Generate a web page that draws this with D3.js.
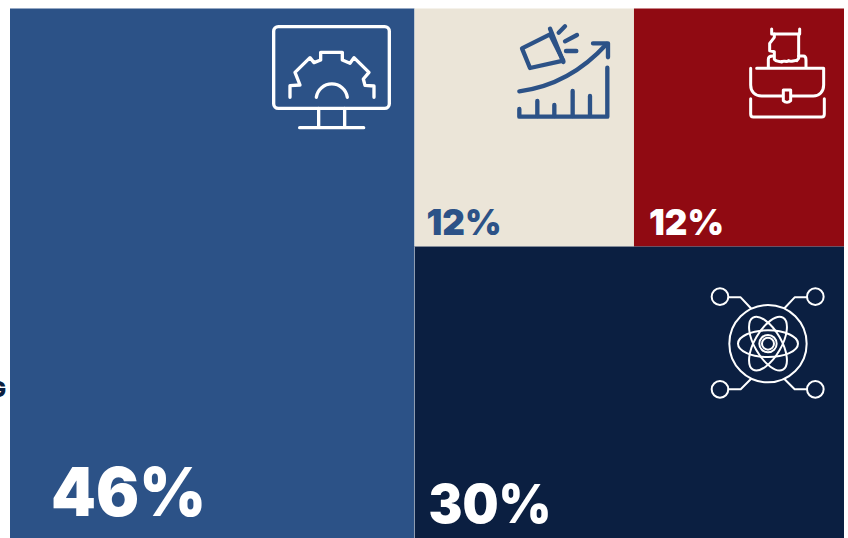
<!DOCTYPE html>
<html>
<head>
    <meta charset="utf-8">
    <style>
        html, body { margin: 0; background: #fff; }
        svg { display: block; }
        text { font-family: Inter, sans-serif; font-weight: 900; }
        .icon path, .icon circle, .icon ellipse, .icon rect { fill: none; stroke-linecap: round; stroke-linejoin: round; }
    </style>
</head>
<body>
    <svg id="chart" width="848" height="538"></svg>
    <script src="https://d3js.org/d3.v7.min.js"></script>
    <script>
        // printed labels
        var labels = ["46%", "12%", "12%", "30%"];
        // tile areas as drawn, they don't quite follow the printed labels
        var tileShares = [48.5, 11.83, 11.32, 28.35];
        var fills = ["#2c5287", "#ebe5d8", "#900a12", "#0b1f41"];
        var textColors = ["#fff", "#2c5287", "#fff", "#fff"];
        var fontSizes = [67, 36, 36, 53];
        var labelWidths = [155, 75, 75, 123];
        var labelX = [41, 12, 15, 14];
        var labelBottom = [22, 12, 12, 15];

        var svg = d3.select("svg");
        var left = 10, top_ = 8.5;

        var root = d3.hierarchy({
            children: [
                { id: 0, value: tileShares[0] },
                { children: [
                    { children: [
                        { id: 1, value: tileShares[1] },
                        { id: 2, value: tileShares[2] }
                    ] },
                    { id: 3, value: tileShares[3] }
                ] }
            ]
        }).sum(function(d) { return d.value || 0; });

        d3.treemap()
            .tile(d3.treemapSliceDice)
            .size([834, 529.5])(root);

        var leaves = root.leaves();
        var plot = svg.append("g").attr("transform", "translate(" + left + "," + top_ + ")");

        plot.selectAll("rect.tile")
            .data(leaves)
            .enter().append("rect")
            .attr("class", "tile")
            .attr("x", function(d) { return d.x0; })
            .attr("y", function(d) { return d.y0; })
            .attr("width", function(d) { return d.x1 - d.x0; })
            .attr("height", function(d) { return d.y1 - d.y0; })
            .attr("fill", function(d) { return fills[d.data.id]; });

        // thin light seam between the big tiles
        plot.append("line").attr("x1", leaves[0].x1).attr("x2", leaves[0].x1)
            .attr("y1", leaves[1].y1).attr("y2", 529.5)
            .attr("stroke", "#8f9db2").attr("stroke-width", 1);

        plot.selectAll("text.value")
            .data(leaves)
            .enter().append("text")
            .attr("class", "value")
            .attr("x", function(d) { return d.x0 + labelX[d.data.id]; })
            .attr("y", function(d) { return d.y1 - labelBottom[d.data.id]; })
            .attr("font-size", function(d) { return fontSizes[d.data.id]; })
            .attr("textLength", function(d) { return labelWidths[d.data.id]; })
            .attr("lengthAdjust", "spacingAndGlyphs")
            .attr("fill", function(d) { return textColors[d.data.id]; })
            .text(function(d) { return labels[d.data.id]; });

        // cut off label on the left edge, the reference clips it too
        svg.append("text")
            .attr("x", 6).attr("y", 397)
            .attr("text-anchor", "end")
            .attr("font-size", 22)
            .attr("fill", "#0b1f41")
            .text("G");

        // icons, traced at 3x so coordinates are in zoomed units
        function icon(x, y, color, sw) {
            return svg.append("g").attr("class", "icon")
                .attr("transform", "translate(" + x + "," + y + ") scale(0.3333)")
                .style("stroke", color).style("stroke-width", sw);
        }
        function addPaths(g, list) {
            list.forEach(function(p) { g.append("path").attr("d", p); });
        }

        // monitor with gear
        var monitor = icon(250, 10, "#fff", 10);
        monitor.append("rect").attr("x", 71).attr("y", 50).attr("width", 347).attr("height", 245).attr("rx", 14);
        addPaths(monitor, [
            "M206 295V352M284 295V352M149 353H341",
            "M120 262V227L150 225L135 187L180 143L192 158L212 150V127H277V150L300 160L312 143L357 187L340 207L345 226L372 228V262",
            "M199 262A47 47 0 0 1 292 262"
        ]);

        // megaphone and growth chart
        var growth = icon(500, 10, "#2c5287", 13);
        addPaths(growth, [
            "M66 115L150 73L190 152L90 174Z",
            "M150 56L190 156",
            "M176 68L195 49M195 94L231 75M198 123H229",
            "M58 244C150 232 240 190 320 102",
            "M279 100H324V142",
            "M322 173V320H58V297",
            "M112 273V318M163 285V318M218 243V318M270 258V318"
        ]);

        // briefcase with hand
        var briefcase = icon(730, 10, "#fff", 9);
        addPaths(briefcase, [
            "M125 57V72M209 57V72M125 72H209",
            "M133 72V82L119 100V122L133 125V148C140 158 150 152 155 156C160 150 170 158 176 152C182 158 192 150 200 152L206 145V72",
            "M115 172V148C115 142 120 138 128 138M206 138H220C226 138 228 144 228 150V172",
            "M62 175V225C62 245 75 258 95 258H155M185 258H250C268 258 281 245 281 225V175H80",
            "M62 266V312C62 318 65 321 70 321H275C280 321 283 318 283 312V266",
            "M160 240H182V272C176 278 166 278 160 272Z"
        ]);

        // atom in network
        var atom = icon(700, 280, "#fff", 6);
        atom.append("circle").attr("cx", 204).attr("cy", 191).attr("r", 116);
        atom.append("circle").attr("cx", 204).attr("cy", 191).attr("r", 26);
        atom.append("circle").attr("cx", 204).attr("cy", 191).attr("r", 18);
        [0, 60, 120].forEach(function(a) {
            atom.append("ellipse")
                .attr("cx", 204).attr("cy", 191).attr("rx", 90).attr("ry", 40)
                .attr("transform", "rotate(" + a + " 204 191)");
        });
        [[60, 50], [346, 50], [60, 328], [346, 328]].forEach(function(c) {
            atom.append("circle").attr("cx", c[0]).attr("cy", c[1]).attr("r", 25);
        });
        addPaths(atom, [
            "M86 52H122L152 84M320 52H284L254 84",
            "M86 328H122L152 298M320 328H284L254 298"
        ]);
    </script>
</body>
</html>
